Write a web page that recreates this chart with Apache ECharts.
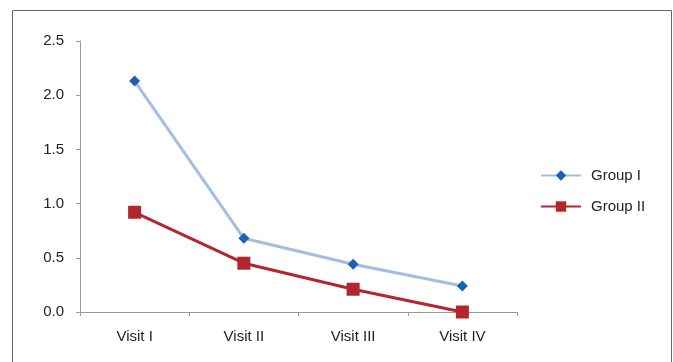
<!DOCTYPE html>
<html><head><meta charset="utf-8">
<script src="https://cdn.jsdelivr.net/npm/echarts@6/dist/echarts.min.js"></script>
<style>html,body{margin:0;padding:0;background:#fff}#c{width:673px;height:362px}</style>
</head><body><div id="c"></div>
<script>
var categories = ["Visit I", "Visit II", "Visit III", "Visit IV"];
var group1 = [2.13, 0.68, 0.44, 0.24];
var group2 = [0.92, 0.45, 0.21, 0.0];
var yTicks = [0, 0.5, 1.0, 1.5, 2.0, 2.5];

var chart = echarts.init(document.getElementById('c'), null, {renderer: 'canvas'});
var font = '"Liberation Sans", Arial, sans-serif';
chart.setOption({
  animation: false,
  backgroundColor: '#fff',
  graphic: [{
    type: 'rect', shape: {x: 12.5, y: 10.5, width: 659, height: 400},
    style: {fill: 'none', stroke: '#666', lineWidth: 1}, silent: true
  }],
  grid: {left: 80, right: 156, top: 41, bottom: 50},
  legend: {
    orient: 'vertical', left: 540, top: 168, itemGap: 16, padding: 0,
    itemWidth: 40, itemHeight: 13,
    textStyle: {fontFamily: font, fontSize: 15, color: '#222', padding: [0, 0, 0, 5]},
    data: ['Group I', 'Group II']
  },
  xAxis: {
    type: 'category', data: categories,
    axisLine: {lineStyle: {color: '#999', width: 1}},
    axisTick: {show: true, length: 4, lineStyle: {color: '#999'}},
    axisLabel: {fontFamily: font, fontSize: 15, color: '#222', margin: 17}
  },
  yAxis: {
    type: 'value', min: yTicks[0], max: yTicks[yTicks.length - 1], interval: 0.5,
    axisLine: {show: true, lineStyle: {color: '#999', width: 1}},
    axisTick: {show: true, length: 4, lineStyle: {color: '#999'}},
    splitLine: {show: false},
    axisLabel: {fontFamily: font, fontSize: 15, color: '#222', margin: 16,
      formatter: function (v) { return v.toFixed(1); }}
  },
  series: [{
    name: 'Group I', type: 'line', data: group1,
    symbol: 'diamond', symbolSize: 11,
    lineStyle: {color: '#a3bde3', width: 3},
    itemStyle: {color: '#1d5fb0'}
  }, {
    name: 'Group II', type: 'line', data: group2,
    symbol: 'rect', symbolSize: 13,
    lineStyle: {color: '#b3262e', width: 3},
    itemStyle: {color: '#b3262e'}
  }]
});
</script></body></html>
